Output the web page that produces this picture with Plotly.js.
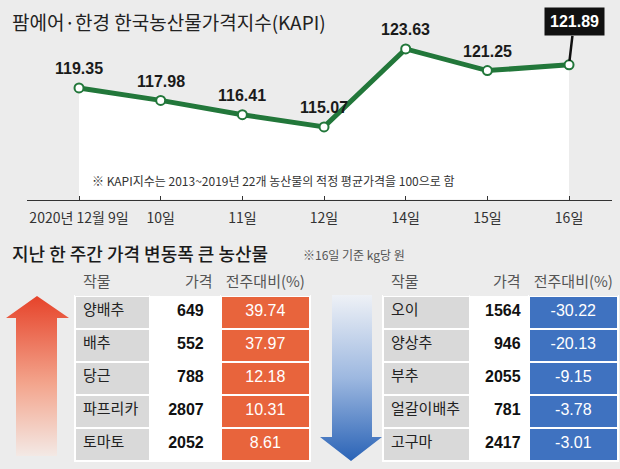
<!DOCTYPE html>
<html><head><meta charset="utf-8">
<script src="https://cdn.plot.ly/plotly-3.0.1.min.js"></script>
<style>html,body{margin:0;padding:0;background:#ececec;}</style>
</head><body><div id="chart" style="width:620px;height:469px;"></div>
<script>
// ---- data ----
const dates = ['2020년 12월 9일', '10일', '11일', '12일', '14일', '15일', '16일'];
const kapi = [119.35, 117.98, 116.41, 115.07, 123.63, 121.25, 121.89];

const tableHeader = ['작물', '가격', '전주대비(%)'];
const upCrops = ['양배추', '배추', '당근', '파프리카', '토마토'];
const upPrices = [649, 552, 788, 2807, 2052];
const upChange = [39.74, 37.97, 12.18, 10.31, 8.61];
const downCrops = ['오이', '양상추', '부추', '얼갈이배추', '고구마'];
const downPrices = [1564, 946, 2055, 781, 2417];
const downChange = [-30.22, -20.13, -9.15, -3.78, -3.01];

// ---- styles ----
const KR = "'Noto Sans CJK KR', 'Noto Sans', sans-serif";
const NUM = "'Liberation Sans', Arial, sans-serif";
const BG = '#ececec';
const GREEN = '#22773a';
const ORANGE = '#e8643c';
const BLUE = '#3f72c0';
const GREY = '#d9d9d9';

const W = 620, H = 469;
const px = v => v / W;
const py = v => 1 - v / H;

// decorative arrow outlines (pixel space of the hidden overlay axis)
const upArrowX = [37, 69, 57, 57, 16, 16, 6, 37];
const upArrowY = [296, 318, 318, 456, 456, 318, 318, 296];
const dnArrowX = [332, 372, 372, 382, 351, 320, 332, 332];
const dnArrowY = [295, 295, 437, 437, 461, 437, 437, 295];

const fmt2 = v => v.toFixed(2);
const nb = '\u00a0';

const traces = [
  {
    type: 'scatter', mode: 'lines+markers', x: dates, y: kapi,
    xaxis: 'x', yaxis: 'y',
    line: {color: GREEN, width: 5},
    marker: {size: 9, color: 'white', line: {color: GREEN, width: 2}},
    fill: 'tozeroy', fillcolor: 'white',
    hoverinfo: 'skip', showlegend: false
  },
  {
    type: 'scatter', mode: 'lines', x: upArrowX, y: upArrowY.map(v => H - v),
    xaxis: 'x2', yaxis: 'y2', fill: 'toself', line: {width: 0},
    fillgradient: {type: 'vertical', start: H - 456, stop: H - 296,
      colorscale: [[0, '#f3e9e5'], [0.45, '#f3a58d'], [1, '#e6432a']]},
    hoverinfo: 'skip', showlegend: false
  },
  {
    type: 'scatter', mode: 'lines', x: dnArrowX, y: dnArrowY.map(v => H - v),
    xaxis: 'x2', yaxis: 'y2', fill: 'toself', line: {width: 0},
    fillgradient: {type: 'vertical', start: H - 461, stop: H - 295,
      colorscale: [[0, '#2a63b6'], [0.5, '#9db8e0'], [1, '#eef1f6']]},
    hoverinfo: 'skip', showlegend: false
  },
  {
    type: 'table',
    domain: {x: [px(75), px(310)], y: [py(465), py(268)]},
    columnwidth: [75, 70, 89],
    header: {
      values: tableHeader, align: ['left', 'right', 'center'], height: 28,
      fill: {color: BG}, line: {color: BG, width: 0},
      font: {family: KR, size: 15, color: '#555'}
    },
    cells: {
      values: [upCrops, upPrices.map(v => v + nb + nb), upChange.map(fmt2)],
      align: ['left', 'right', 'center'], height: 33,
      fill: {color: [GREY, 'white', ORANGE]},
      line: {color: 'white', width: 2},
      font: {family: [KR, NUM, NUM], size: [15, 16, 16], color: ['#222', '#111', 'white'],
             weight: ['normal', 'bold', 'normal']}
    }
  },
  {
    type: 'table',
    domain: {x: [px(383), px(618)], y: [py(465), py(268)]},
    columnwidth: [87, 58, 89],
    header: {
      values: tableHeader, align: ['left', 'right', 'center'], height: 28,
      fill: {color: BG}, line: {color: BG, width: 0},
      font: {family: KR, size: 15, color: '#555'}
    },
    cells: {
      values: [downCrops, downPrices, downChange.map(fmt2)],
      align: ['left', 'right', 'center'], height: 33,
      fill: {color: [GREY, 'white', BLUE]},
      line: {color: 'white', width: 2},
      font: {family: [KR, NUM, NUM], size: [15, 16, 16], color: ['#222', '#111', 'white'],
             weight: ['normal', 'bold', 'normal']}
    }
  }
];

const annotations = [];
kapi.forEach((v, i) => {
  if (i === kapi.length - 1) return;
  annotations.push({
    xref: 'x', yref: 'y', x: dates[i], y: v, text: fmt2(v), showarrow: false,
    yshift: 19, font: {family: NUM, size: 16, color: '#1a1a1a', weight: 'bold'}
  });
});
const last = kapi.length - 1;
annotations.push({
  xref: 'x', yref: 'y', x: dates[last], y: kapi[last], text: fmt2(kapi[last]),
  showarrow: true, arrowhead: 0, arrowwidth: 2.5, arrowcolor: '#111', standoff: 4,
  ax: 5, ay: -43, bgcolor: '#111', borderpad: 5,
  font: {family: NUM, size: 16, color: 'white', weight: 'bold'}
});
annotations.push(
  {xref: 'paper', yref: 'paper', x: px(10), y: py(22), xanchor: 'left', yanchor: 'middle',
   text: '팜에어·한경 한국농산물가격지수(KAPI)', showarrow: false,
   font: {family: KR, size: 19, color: '#222'}},
  {xref: 'paper', yref: 'paper', x: px(90), y: py(180), xanchor: 'left', yanchor: 'middle',
   text: '※ KAPI지수는 2013~2019년 22개 농산물의 적정 평균가격을 100으로 함', showarrow: false,
   font: {family: KR, size: 12, color: '#333'}},
  {xref: 'paper', yref: 'paper', x: px(10), y: py(253), xanchor: 'left', yanchor: 'middle',
   text: '지난 한 주간 가격 변동폭 큰 농산물', showarrow: false,
   font: {family: KR, size: 18, color: '#1a1a1a', weight: 500}},
  {xref: 'paper', yref: 'paper', x: px(301), y: py(254), xanchor: 'left', yanchor: 'middle',
   text: '※16일 기준 kg당 원', showarrow: false,
   font: {family: KR, size: 12, color: '#555'}}
);

const layout = {
  width: W, height: H, margin: {l: 0, r: 0, t: 0, b: 0},
  paper_bgcolor: BG, plot_bgcolor: 'rgba(0,0,0,0)',
  showlegend: false,
  xaxis: {
    domain: [px(27), px(612)], type: 'category', range: [-0.637, 6.526],
    showline: true, linecolor: '#333', linewidth: 1.5,
    ticks: 'inside', ticklen: 4, tickcolor: '#333', tickwidth: 1,
    showgrid: false, zeroline: false, ticklabelstandoff: 5,
    tickfont: {family: KR, size: 14, color: '#333'}, fixedrange: true
  },
  yaxis: {
    domain: [py(199.5), 1], range: [107.1, 129.0],
    visible: false, showgrid: false, zeroline: false, fixedrange: true
  },
  xaxis2: {domain: [0, 1], range: [0, W], visible: false, anchor: 'y2', fixedrange: true},
  yaxis2: {domain: [0, 1], range: [0, H], visible: false, anchor: 'x2', fixedrange: true},
  annotations: annotations
};

Plotly.newPlot('chart', traces, layout, {staticPlot: true, displayModeBar: false});
</script></body></html>
